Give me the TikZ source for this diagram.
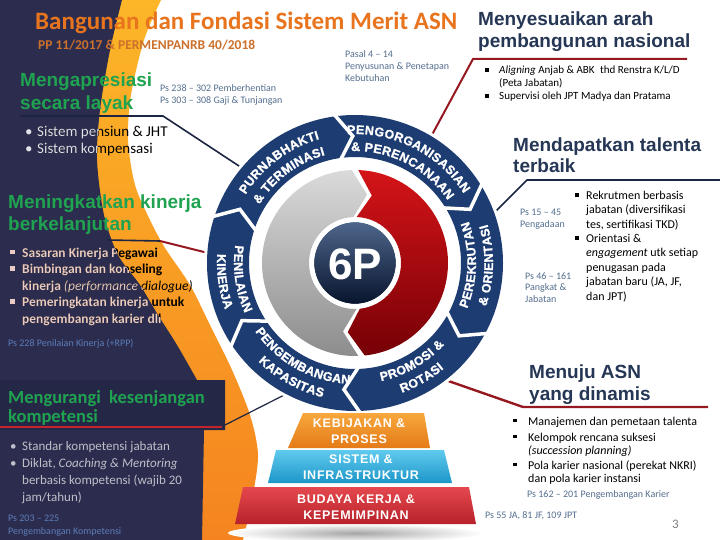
\documentclass[tikz,border=0pt]{standalone}
\usepackage{fontspec}
\setmainfont{Carlito}
\newfontfamily\arialfont{Liberation Sans}
\newfontfamily\heavyfont[FakeBold=1.2]{Liberation Sans Bold}
\newfontfamily\spacedfont[LetterSpace=6]{Liberation Sans}

\definecolor{panelnavy}{RGB}{44,45,78}
\definecolor{boxnavy}{RGB}{37,39,70}
\definecolor{linenavy}{RGB}{28,38,66}
\definecolor{ringblue}{RGB}{28,60,114}
\definecolor{titleorange}{RGB}{232,116,30}
\definecolor{suborange}{RGB}{204,112,44}
\definecolor{headgreen}{RGB}{31,163,80}
\definecolor{headnavy}{RGB}{37,55,85}
\definecolor{noteslate}{RGB}{84,110,142}
\definecolor{notelight}{RGB}{92,124,184}
\definecolor{linered}{RGB}{150,24,32}
\definecolor{underred}{RGB}{196,36,44}
\definecolor{crestop}{RGB}{252,182,40}
\definecolor{cresbot}{RGB}{245,132,32}
\definecolor{pinktext}{RGB}{236,204,194}
\definecolor{paletext}{RGB}{226,226,236}
\definecolor{greytext}{RGB}{190,191,200}
\definecolor{pagegrey}{RGB}{128,128,128}
\definecolor{greytop}{RGB}{218,218,218}
\definecolor{greybot}{RGB}{140,140,140}
\definecolor{redtop}{RGB}{212,20,24}
\definecolor{redbot}{RGB}{118,0,6}
\definecolor{sixtop}{RGB}{78,102,140}
\definecolor{sixbot}{RGB}{8,20,45}
\definecolor{layerorangetop}{RGB}{248,168,60}
\definecolor{layerorangebot}{RGB}{228,122,24}
\definecolor{layercyantop}{RGB}{96,202,238}
\definecolor{layercyanbot}{RGB}{28,150,200}
\definecolor{layerredtop}{RGB}{228,72,78}
\definecolor{layerredbot}{RGB}{184,34,42}

\newcommand{\sqbul}[1][12pt]{\makebox[#1][l]{\rule[0.22em]{0.32em}{0.32em}}}
\newcommand{\rdbul}{\makebox[12pt][l]{\textbullet}}
\newcommand{\ringfont}{\heavyfont\fontsize{12.5}{12.5}\selectfont}
\newcommand{\navyoutline}{(0,0) -- plot[smooth] coordinates {(122,0) (110,50) (100,110) (97,160) (104,215) (118,255) (140,285) (158,315) (177,345) (197,380)} -- (225,380) -- (225,430) -- (204,430) -- (202,540) -- (0,540) -- cycle}

% letters set one by one round the ring: id, centre angle, radius, sense, letter/width list
\newcommand{\ringlabel}[5]{%
  \xdef\ringtotal{0}%
  \foreach \ch/\w in {#5}{\pgfmathsetmacro{\tmp}{\ringtotal+12.5*\w+0.3}\xdef\ringtotal{\tmp}}%
  \xdef\ringcum{0}%
  \foreach \ch/\w [count=\k] in {#5}{%
    \pgfmathsetmacro{\chang}{#2+(#4)*(0.5*\ringtotal-\ringcum-0.5*(12.5*\w+0.3))/#3*180/pi}%
    \pgfmathsetmacro{\chrot}{\chang-(#4)*90}%
    \node[ringletter, rotate=\chrot] (#1\k) at (\chang:#3) {\ch};
    \pgfmathsetmacro{\tmp}{\ringcum+12.5*\w+0.3}\xdef\ringcum{\tmp}%
  }%
}

\tikzset{
  txt/.style={anchor=base west, inner sep=0pt, align=left},
  headline/.style={txt, text=headnavy, font=\arialfont\bfseries\fontsize{19}{22}\selectfont},
  greenhead/.style={txt, text=headgreen, font=\arialfont\bfseries\fontsize{19}{22}\selectfont},
  note/.style={txt, text=noteslate, font=\fontsize{10}{12}\selectfont},
  darknote/.style={note, text=notelight},
  bullets/.style={txt, font=\fontsize{12}{14.4}\selectfont},
  pensiunfont/.style={txt, font=\fontsize{15}{17}\selectfont},
  sasaranfont/.style={txt, font=\bfseries\fontsize{13.5}{16.5}\selectfont},
  navyconn/.style={draw=linenavy, line width=1.6pt},
  redconn/.style={draw=linered, line width=2pt},
  sepline/.style={draw=white, line width=3.5pt},
  ringletter/.style={anchor=base, inner sep=0pt, text=white, font=\ringfont},
  layertext/.style={inner sep=0pt, align=center, text=white, font=\spacedfont\bfseries\fontsize{12.5}{16}\selectfont}
}

\begin{document}
\begin{tikzpicture}[x=1pt,y=-1pt]
\useasboundingbox (0,0) rectangle (720,540);
\fill[white] (0,0) rectangle (720,540);

% orange crescent and navy panel
\shade[top color=crestop, bottom color=cresbot] (0,0) -- plot[smooth] coordinates {(161,0) (144,40) (131,95) (128,140) (135,185) (150,220) (165,248) (190,285) (210,325) (232,370) (250,415) (258,455) (252,500) (243,540)} -- (0,540) -- cycle;
\fill[panelnavy] \navyoutline;
\fill[boxnavy] (0,380) rectangle (225,430);

% title (multi-line nodes sit on the baseline of their last line)
\node[txt, text=titleorange, font=\bfseries\fontsize{25}{25}\selectfont] (title) at (35,30) {Bangunan dan Fondasi Sistem Merit ASN};
\node[txt, text=suborange, font=\bfseries\fontsize{13.5}{14}\selectfont] (subtitle) at (38,50) {PP 11/2017 \& PERMENPANRB 40/2018};

% left column
\node[greenhead, font=\arialfont\bfseries\fontsize{19}{23}\selectfont] (apresiasi) at (20,110) {Mengapresiasi\\secara layak};
\node[note] (ps238) at (160,104) {Ps 238 -- 302 Pemberhentian\\Ps 303 -- 308 Gaji \& Tunjangan};
\node[pensiunfont] (pensiun) at (25,154) {\rdbul Sistem pensiun \& JHT\\\rdbul Sistem kompensasi};
\node[greenhead, font=\arialfont\bfseries\fontsize{19}{21}\selectfont] (kinerja) at (8,230) {Meningkatkan kinerja\\berkelanjutan};
\node[sasaranfont] (sasaran) at (10,323) {\sqbul Sasaran Kinerja Pegawai\\\sqbul Bimbingan dan konseling\\\hspace*{12pt}kinerja {\mdseries\itshape (performance dialogue)}\\\sqbul Pemeringkatan kinerja untuk\\\hspace*{12pt}pengembangan karier dll};
\begin{scope}
  \clip \navyoutline;
  \node[pensiunfont, text=paletext] (pensiunpale) at (pensiun.base west) {\rdbul Sistem pensiun \& JHT\\\rdbul Sistem kompensasi};
  \node[sasaranfont, text=pinktext] (sasaranpale) at (sasaran.base west) {\sqbul Sasaran Kinerja Pegawai\\\sqbul Bimbingan dan konseling\\\hspace*{12pt}kinerja {\mdseries\itshape (performance dialogue)}\\\sqbul Pemeringkatan kinerja untuk\\\hspace*{12pt}pengembangan karier dll};
\end{scope}
\node[darknote] (ps228) at (8,346) {Ps 228 Penilaian Kinerja (+RPP)};
\node[txt, text=headgreen, font=\bfseries\fontsize{18.5}{19}\selectfont] (mengurangi) at (8,422) {Mengurangi\ \ kesenjangan\\kompetensi};
\node[txt, text=greytext, font=\fontsize{13}{17}\selectfont] (standar) at (10,501) {\rdbul Standar kompetensi jabatan\\\rdbul Diklat, \textit{Coaching \& Mentoring}\\\hspace*{12pt}berbasis kompetensi (wajib 20\\\hspace*{12pt}jam/tahun)};
\node[darknote, font=\fontsize{10}{13}\selectfont] (ps203) at (8,534) {Ps 203 -- 225\\Pengembangan Kompetensi};

% middle and right column
\node[note] (pasal) at (345,82) {Pasal 4 -- 14\\Penyusunan \& Penetapan\\Kebutuhan};
\node[headline] (arah) at (478,48) {Menyesuaikan arah\\pembangunan nasional};
\node[txt, font=\fontsize{11}{12.5}\selectfont] (aligning) at (485,86.5) {\sqbul[14pt]\textit{Aligning} Anjab \& ABK\enspace thd Renstra K/L/D\\\hspace*{14pt}(Peta Jabatan)};
\node[txt, font=\fontsize{11}{12.5}\selectfont] (supervisi) at (485,100) {\sqbul[14pt]Supervisi oleh JPT Madya dan Pratama};
\node[headline, font=\arialfont\bfseries\fontsize{19}{21}\selectfont] (talenta) at (513,173) {Mendapatkan talenta\\terbaik};
\node[bullets] (rekrutmen) at (575,300) {\sqbul[11pt]Rekrutmen berbasis\\\hspace*{11pt}jabatan (diversifikasi\\\hspace*{11pt}tes, sertifikasi TKD)\\\sqbul[11pt]Orientasi \&\\\hspace*{11pt}\textit{engagement} utk setiap\\\hspace*{11pt}penugasan pada\\\hspace*{11pt}jabatan baru (JA, JF,\\\hspace*{11pt}dan JPT)};
\node[note] (ps15) at (520,227) {Ps 15 -- 45\\Pengadaan};
\node[note, font=\fontsize{10}{11.5}\selectfont] (ps46) at (525,302) {Ps 46 -- 161\\Pangkat \&\\Jabatan};
\node[headline] (dinamis) at (529,400) {Menuju ASN\\yang dinamis};
\node[bullets, font=\fontsize{12}{13.5}\selectfont] (manajemen) at (513,425) {\sqbul[15pt]Manajemen dan pemetaan talenta};
\node[bullets, font=\fontsize{12}{13.5}\selectfont] (kelompok) at (513,454.5) {\sqbul[15pt]Kelompok rencana suksesi\\\hspace*{15pt}\textit{(succession planning)}};
\node[bullets, font=\fontsize{12}{13.5}\selectfont] (pola) at (513,482.5) {\sqbul[15pt]Pola karier nasional (perekat NKRI)\\\hspace*{15pt}dan pola karier instansi};
\node[note] (ps162) at (527,497) {Ps 162 -- 201 Pengembangan Karier};
\node[note] (ps55) at (485,518) {Ps 55 JA, 81 JF, 109 JPT};
\node[txt, text=pagegrey, font=\fontsize{13}{13}\selectfont] (pagenum) at (672,528) {3};

% connector points
\begin{scope}[shift={(355,263)}, y=1pt]
  \coordinate (ringpurna) at (140:149);
  \coordinate (ringorg) at (59:149);
  \coordinate (ringrekrut) at (20:149);
  \coordinate (ringnilai) at (176:149);
  \coordinate (ringkembang) at (-118:149);
  \coordinate (ringpromosi) at (-52:149);
\end{scope}
\coordinate (apresiasiul) at (20,116);
\coordinate (apresiasibend) at (163,116);
\coordinate (arahend) at (687,59);
\coordinate (arahbend) at (473,59);
\coordinate (talentaend) at (720,180);
\coordinate (talentabend) at (527,180);
\coordinate (kinerjaul) at (107,240);
\coordinate (kinerjabend) at (160,241);
\coordinate (kompetensiul) at (0,427);
\coordinate (kompetensiend) at (222,427);
\coordinate (kompetensibox) at (225,425);
\coordinate (dinamisend) at (708,407);
\coordinate (dinamisbend) at (523,407);

\draw[navyconn] (apresiasiul) -- (apresiasibend) -- (ringpurna);
\draw[redconn] (arahend) -- (arahbend) -- (ringorg);
\draw[navyconn] (talentaend) -- (talentabend) -- (ringrekrut);
\draw[navyconn] (kinerjaul) -- (kinerjabend);
\draw[redconn] (kinerjabend) -- (ringnilai);
\draw[draw=underred, line width=1.4pt] (kompetensiul) -- (kompetensiend);
\draw[navyconn, line width=1.2pt] (kompetensibox) -- (ringkembang);
\draw[redconn, line width=2.4pt] (dinamisend) -- (dinamisbend) -- (ringpromosi);

% 6P ring
\begin{scope}[shift={(355,263)}, y=1pt]
  \fill[white] (0,0) circle (151);
  \fill[ringblue, even odd rule] (0,0) circle (148) (0,0) circle (106);
  \foreach \a in {96,30,-30,-90,-148,160}
    \draw[sepline] (\a+2:150) -- (\a-5:127) -- (\a+2:104);
  \ringlabel{purnaout}{127}{129}{1}{P/.667,U/.722,R/.722,N/.722,A/.722,B/.722,H/.722,A/.722,K/.722,T/.611,I/.278}
  \ringlabel{purnain}{127}{112}{1}{\&/.722,~/.278,T/.611,E/.667,R/.722,M/.833,I/.278,N/.722,A/.722,S/.667,I/.278}
  \ringlabel{orgout}{63}{129}{1}{P/.667,E/.667,N/.722,G/.778,O/.778,R/.722,G/.778,A/.722,N/.722,I/.278,S/.667,A/.722,S/.667,I/.278,A/.722,N/.722}
  \ringlabel{orgin}{63}{112}{1}{\&/.722,~/.278,P/.667,E/.667,R/.722,E/.667,N/.722,C/.722,A/.722,N/.722,A/.722,A/.722,N/.722}
  \ringlabel{rekrutin}{-1}{121}{-1}{P/.667,E/.667,R/.722,E/.667,K/.722,R/.722,U/.722,T/.611,A/.722,N/.722}
  \ringlabel{rekrutout}{-1}{138}{-1}{\&/.722,~/.278,O/.778,R/.722,I/.278,E/.667,N/.722,T/.611,A/.722,S/.667,I/.278}
  \ringlabel{promosiin}{-60}{121}{-1}{P/.667,R/.722,O/.778,M/.833,O/.778,S/.667,I/.278,~/.278,\&/.722}
  \ringlabel{promosiout}{-60}{138}{-1}{R/.722,O/.778,T/.611,A/.722,S/.667,I/.278}
  \ringlabel{kembangin}{-119}{121}{-1}{P/.667,E/.667,N/.722,G/.778,E/.667,M/.833,B/.722,A/.722,N/.722,G/.778,A/.722,N/.722}
  \ringlabel{kembangout}{-119}{138}{-1}{K/.722,A/.722,P/.667,A/.722,S/.667,I/.278,T/.611,A/.722,S/.667}
  \ringlabel{nilaiin}{-172}{121}{-1}{P/.667,E/.667,N/.722,I/.278,L/.611,A/.722,I/.278,A/.722,N/.722}
  \ringlabel{nilaiout}{-172}{138}{-1}{K/.722,I/.278,N/.722,E/.667,R/.722,J/.556,A/.722}
  \shade[top color=greytop, bottom color=greybot] (92:93) arc[start angle=92, end angle=272, radius=93] -- (260:69.5) -- (272:46) arc[start angle=272, end angle=92, radius=46] -- (80:69.5) -- cycle;
  \shade[top color=redtop, bottom color=redbot] (88:93) arc[start angle=88, end angle=-84, radius=93] -- (-96:69.5) -- (-84:46) arc[start angle=-84, end angle=88, radius=46] -- (76:69.5) -- cycle;
  \shade[top color=sixtop, bottom color=sixbot] (0,0) circle (41);
  \draw[white, line width=2.5pt] (0,0) circle (42.2);
  \node[text=white, font=\arialfont\bfseries\fontsize{44}{44}\selectfont] (sixp) at (0,-1) {6P};
\end{scope}

% foundation layers
\shade[inner color=black!35, outer color=white] (356,533) ellipse [x radius=128, y radius=9];
\shade[top color=layerorangetop, bottom color=layerorangebot] (303,413) -- (424,413) -- (430,448) -- (288,448) -- cycle;
\shade[top color=layercyantop, bottom color=layercyanbot] (276,450) -- (444,450) -- (452,483) -- (268,483) -- cycle;
\shade[top color=layerredtop, bottom color=layerredbot] (243,487) -- (469,487) -- (476,524) -- (235,524) -- cycle;
\node[layertext] (kebijakan) at (359,431) {KEBIJAKAN \&\\PROSES};
\node[layertext] (sistem) at (361,467) {SISTEM \&\\INFRASTRUKTUR};
\node[layertext] (budaya) at (356,507) {BUDAYA KERJA \&\\KEPEMIMPINAN};
\end{tikzpicture}
\end{document}
